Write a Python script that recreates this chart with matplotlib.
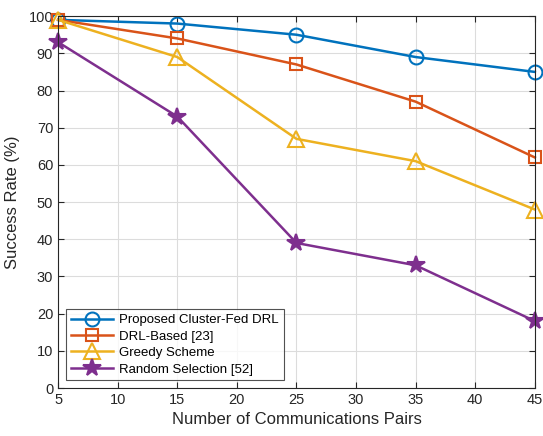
import matplotlib
matplotlib.use('Agg')
import matplotlib.pyplot as plt

plt.rcParams['font.family'] = ['Liberation Sans', 'DejaVu Sans']

pairs = [5, 15, 25, 35, 45]
proposed = [99, 98, 95, 89, 85]
drl_based = [99, 94, 87, 77, 62]
greedy = [99, 89, 67, 61, 48]
random_sel = [93, 73, 39, 33, 18]

labels = ['Proposed Cluster-Fed DRL', 'DRL-Based [23]', 'Greedy Scheme', 'Random Selection [52]']
colors = ['#0072BD', '#D95319', '#EDB120', '#7E2F8E']
markers = ['o', 's', '^', '*']
sizes = [10, 8, 11, 13]

fig = plt.figure(figsize=(5.43, 4.36), dpi=100)
ax = fig.add_axes([0.107, 0.110, 0.878, 0.853])

for ys, lab, c, m, s in zip([proposed, drl_based, greedy, random_sel], labels, colors, markers, sizes):
    face = c if m == '*' else 'none'
    ax.plot(pairs, ys, color=c, marker=m, markersize=s, markerfacecolor=face,
            markeredgecolor=c, markeredgewidth=1.5, linewidth=1.8, label=lab, clip_on=False)

ax.set_xlim(5, 45)
ax.set_ylim(0, 100)
ax.set_xticks(range(5, 46, 5))
ax.set_yticks(range(0, 101, 10))
ax.grid(True, color='#dcdcdc', linewidth=0.8)
ax.tick_params(direction='in', labelsize=10.5, colors='#262626', length=4, top=True, right=True,
               labeltop=False, labelright=False)
for sp in ax.spines.values():
    sp.set_color('#262626')
    sp.set_linewidth(0.8)
ax.set_xlabel('Number of Communications Pairs', fontsize=12, color='#262626', labelpad=4)
ax.set_ylabel('Success Rate (%)', fontsize=12, color='#262626', labelpad=6)

leg = ax.legend(loc='lower left', fontsize=9.5, frameon=True, fancybox=False, edgecolor='#262626',
                borderpad=0.35, labelspacing=0.32, handlelength=3.2, handletextpad=0.5,
                borderaxespad=0.6)
leg.get_frame().set_linewidth(0.8)

fig.savefig('out.png', dpi=100)
